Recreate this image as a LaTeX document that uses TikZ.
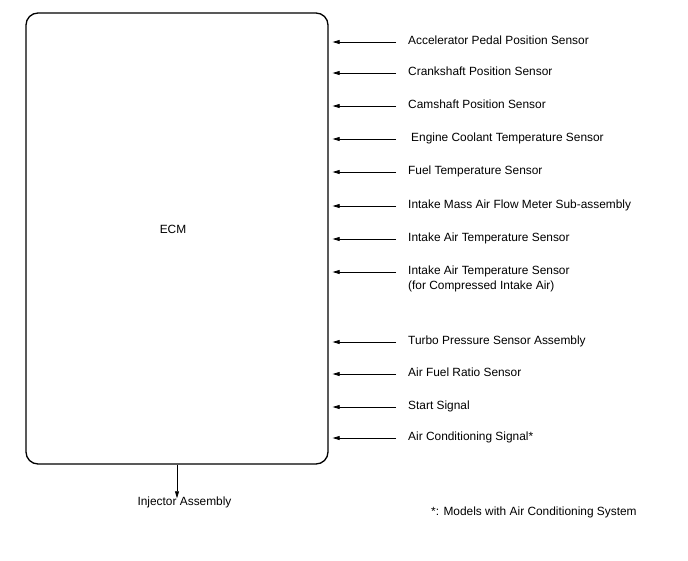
\documentclass[tikz,border=0pt]{standalone}
\usepackage{fontspec}
\setmainfont{Liberation Sans}
\usetikzlibrary{arrows.meta}

\begin{document}
\begin{tikzpicture}[
        x=1pt, y=-1pt,
        every node/.style={font=\fontsize{11.9}{15}\selectfont, inner sep=0pt},
        ecmbox/.style={draw, line width=1.3pt, rounded corners=12pt,
            minimum width=302pt, minimum height=451pt},
        sig/.style={anchor=mid west},
        wire/.style={line width=0.7pt, -{Triangle[length=7pt,width=4pt]}}
    ]
    \useasboundingbox (0,0) rectangle (688,560);

    \node[ecmbox] (ecm) at (177,238.5) {};
    \node (ecmlabel) at (173,229) {ECM};

    % input signals
    \foreach \n/\y/\x/\t in {
            app/42/408/{Accelerator Pedal Position Sensor},
            crk/73/408/{Crankshaft Position Sensor},
            cam/106/408/{Camshaft Position Sensor},
            ect/139/411/{Engine Coolant Temperature Sensor},
            fuel/172/408/{Fuel Temperature Sensor},
            maf/206/408/{Intake Mass Air Flow Meter Sub-assembly},
            iat/239/408/{Intake Air Temperature Sensor},
            iatc/272/408/{\vtop{\hbox{Intake Air Temperature Sensor}\hbox{(for Compressed Intake Air)}}},
            turbo/342/408/{Turbo Pressure Sensor Assembly},
            af/374/408/{Air Fuel Ratio Sensor},
            sta/407/408/{Start Signal},
            ac/438/408/{Air Conditioning Signal*}} {
        \node[sig] (\n) at (\x,\y) {\t};
        \coordinate (\n in) at (396,\y);
        \draw[wire] (\n in) -- ([xshift=4pt]ecm.east |- \n in);
    }

    % output
    \node (inj) at (184.5,502) {Injector Assembly};
    \draw[wire] (ecm.south) -- ([yshift=-2pt]ecm.south |- inj.north);

    \node[sig] (note) at (431,513) {*: Models with Air Conditioning System};

\end{tikzpicture}
\end{document}
